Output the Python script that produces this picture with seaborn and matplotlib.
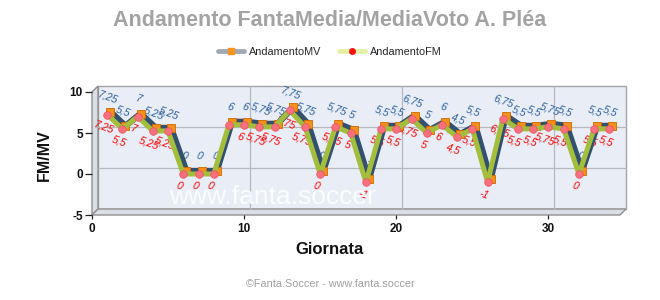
import matplotlib
matplotlib.use("Agg")
import numpy as np
import pandas as pd
import matplotlib.pyplot as plt
import seaborn as sns
from matplotlib.transforms import ScaledTranslation
from matplotlib.patches import Polygon
from matplotlib.lines import Line2D

# ---- data ----
giornate = list(range(1, 35))
mv_values = [7.25, 5.5, 7, 5.25, 5.25, 0, 0, 0, 6, 6, 5.75, 5.75, 7.75, 5.75, 0, 5.75, 5,
             -1, 5.5, 5.5, 6.75, 5, 6, 4.5, 5.5, -1, 6.75, 5.5, 5.5, 5.75, 5.5, 0, 5.5, 5.5]
fm_values = [7.25, 5.5, 7, 5.25, 5.25, 0, 0, 0, 6, 6, 5.75, 5.75, 7.75, 5.75, 0, 5.75, 5,
             -1, 5.5, 5.5, 6.75, 5, 6, 4.5, 5.5, -1, 6.75, 5.5, 5.5, 5.75, 5.5, 0, 5.5, 5.5]
x_ticks = [0, 10, 20, 30]
y_ticks = [-5, 0, 5, 10]
title = "Andamento FantaMedia/MediaVoto A. Pléa"
series_names = ["AndamentoMV", "AndamentoFM"]

df = pd.DataFrame({"Giornata": giornate, "MV": mv_values, "FM": fm_values})

sns.set_theme(style="white")
plt.rcParams["font.family"] = ["Liberation Sans", "DejaVu Sans"]
plt.rcParams["axes.unicode_minus"] = False

W, H = 660, 300
fig = plt.figure(figsize=(6.6, 3), dpi=100)
fig.patch.set_facecolor("white")
L, R, T, B = 92, 620, 92, 215
ax = fig.add_axes([L / W, 1 - B / H, (R - L) / W, (B - T) / H])
ax.patch.set_visible(False)
for s in ax.spines.values():
    s.set_visible(False)

DX, DY = 6, 6  # depth in px


def fp(x, y):
    return (x / W, 1 - y / H)


# back wall, left wall, floor
back = Polygon([fp(L + DX, T - DY), fp(R + DX, T - DY), fp(R + DX, B - DY), fp(L + DX, B - DY)],
               closed=True, transform=fig.transFigure, facecolor="#E8EDF6",
               edgecolor="#A4A4A4", lw=1, zorder=0, clip_on=False)
leftw = Polygon([fp(L, T), fp(L + DX, T - DY), fp(L + DX, B - DY), fp(L, B)],
                closed=True, transform=fig.transFigure, facecolor="#D8DDE6",
                edgecolor="#8E8E8E", lw=1, zorder=0.2, clip_on=False)
floor = Polygon([fp(L, B), fp(L + DX, B - DY), fp(R + DX, B - DY), fp(R, B)],
                closed=True, transform=fig.transFigure, facecolor="#DADFE7",
                edgecolor="#8E8E8E", lw=1, zorder=0.2, clip_on=False)
for p in (back, leftw, floor):
    ax.add_patch(p)

ax.set_xlim(0, 34.7)
ax.set_ylim(-5, 10)

back_t = ax.transData + ScaledTranslation(DX / 100, DY / 100, fig.dpi_scale_trans)
for yv in [0, 5]:
    ax.plot([0, 34.7], [yv, yv], color="#B4B8C0", lw=0.9, transform=back_t, zorder=0.5, clip_on=False)
for xv in [10, 20, 30]:
    ax.plot([xv, xv], [-5, 10], color="#B4B8C0", lw=0.9, transform=back_t, zorder=0.5, clip_on=False)

# watermark
fig.text(272 / W, 1 - 197 / H, "www.fanta.soccer", color="white", alpha=0.85,
         fontsize=19, ha="center", va="center", zorder=1)

mv_t = ax.transData + ScaledTranslation(3 / 100, 3 / 100, fig.dpi_scale_trans)

# value labels (under lines)
def fmt(v):
    return f"{v:g}".replace(".", ",")

for xv, v in zip(giornate, mv_values):
    ax.annotate(fmt(v), (xv, v), xytext=(0.8, 12.5), textcoords="offset points",
                ha="center", va="center", rotation=-20, fontsize=7.6, style="italic",
                color="#2E5F9E", zorder=1.5, annotation_clip=False)
for xv, v in zip(giornate, fm_values):
    ax.annotate(fmt(v), (xv, v), xytext=(-2.5, -9), textcoords="offset points",
                ha="center", va="center", rotation=-20, fontsize=7.6, style="italic",
                color="#FF0000", zorder=1.5, annotation_clip=False)

sns.lineplot(data=df, x="Giornata", y="MV", ax=ax, color="#33506E", lw=4.5,
             transform=mv_t, zorder=3, legend=False, sort=False)
sns.scatterplot(data=df, x="Giornata", y="MV", ax=ax, marker="s", s=38,
                color="#F39019", edgecolor="#D06A00", linewidth=0.6,
                transform=mv_t, zorder=4, legend=False)
sns.lineplot(data=df, x="Giornata", y="FM", ax=ax, color="#A3BE3C", lw=3.6,
             zorder=5, legend=False, sort=False)
sns.scatterplot(data=df, x="Giornata", y="FM", ax=ax, marker="o", s=30,
                color="#F7707E", edgecolor="#F05060", linewidth=0.5,
                zorder=6, legend=False)

ax.set_xlim(0, 34.7)
ax.set_ylim(-5, 10)
ax.set_xticks(x_ticks)
ax.set_yticks(y_ticks)
ax.set_xlabel("")
ax.set_ylabel("")
ax.tick_params(axis="x", length=3, width=0.9, color="#222222", pad=3, labelsize=8.5, bottom=True)
ax.tick_params(axis="y", length=5, width=0.9, color="#222222", pad=1.5, labelsize=8.5, left=True)
for lab in ax.get_xticklabels() + ax.get_yticklabels():
    lab.set_fontweight("bold")
    lab.set_color("#111111")

fig.text(330 / W, 1 - 20 / H, title, ha="center", va="center", fontsize=15.5,
         fontweight="bold", color="#A3A3A3")
fig.text(44 / W, 1 - 155 / H, "FM/MV", ha="center", va="center", rotation=90,
         fontsize=11.5, fontweight="bold", color="#111111")
fig.text(330 / W, 1 - 250 / H, "Giornata", ha="center", va="center",
         fontsize=12, fontweight="bold", color="#111111")
fig.text(330 / W, 1 - 284 / H, "©Fanta.Soccer - www.fanta.soccer", ha="center", va="center",
         fontsize=7.8, color="#A0A0A0")

handles = [
    Line2D([], [], color="#A1A9B3", lw=3.5, marker="s", markersize=4.5,
           markerfacecolor="#F7941D", markeredgecolor="#F7941D"),
    Line2D([], [], color="#E4F0A4", lw=3.5, marker="o", markersize=4,
           markerfacecolor="#FF1010", markeredgecolor="#FF1010"),
]
fig.legend(handles, series_names, loc="center", bbox_to_anchor=(330 / W, 1 - 52 / H),
           ncol=2, frameon=False, fontsize=7.8, handlelength=2.4, columnspacing=1.6,
           handletextpad=0.5)

fig.savefig("out.png", dpi=100)
